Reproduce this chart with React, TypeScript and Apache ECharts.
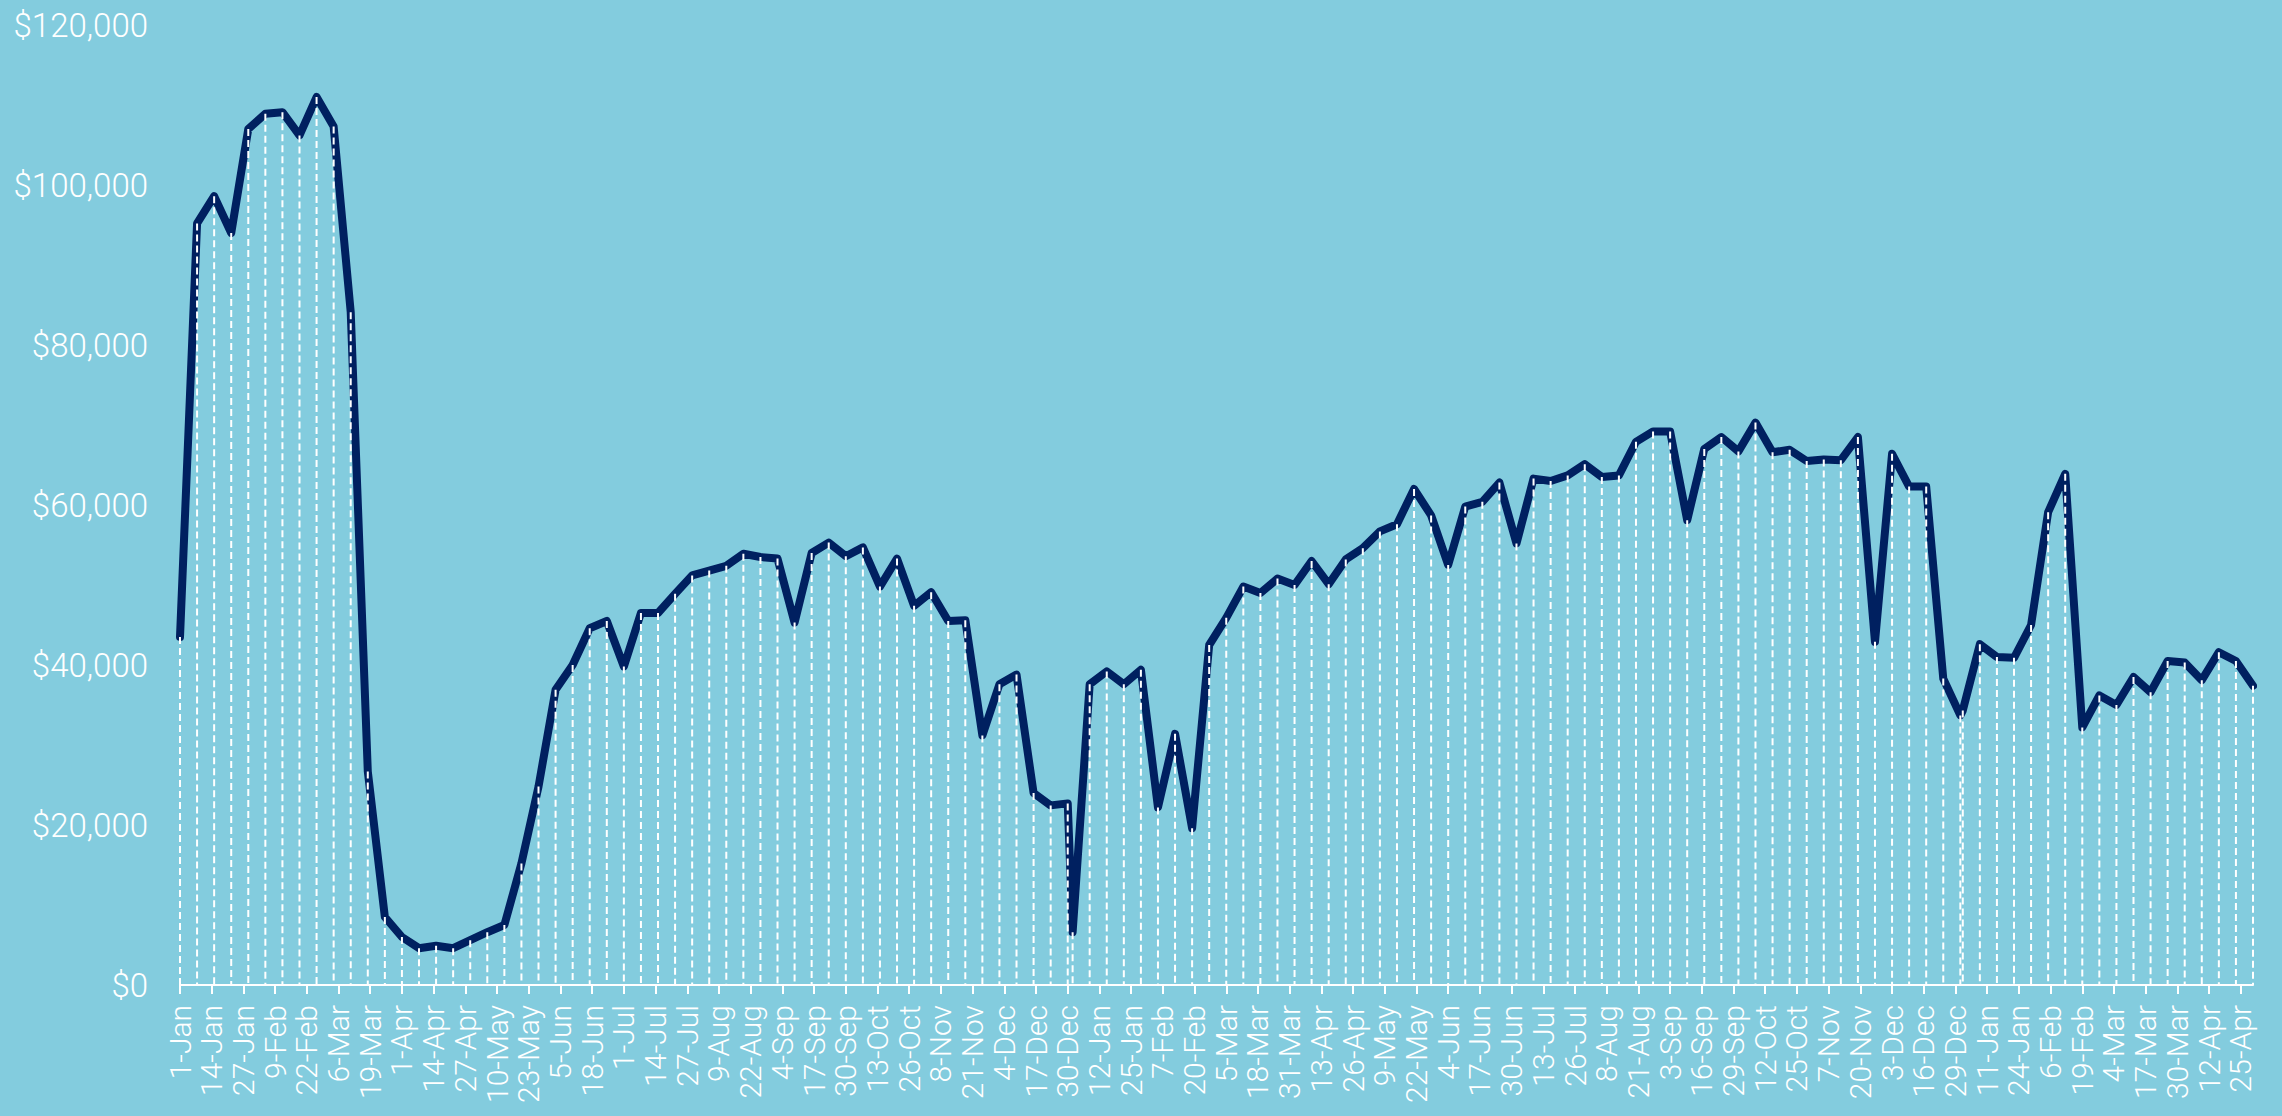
import React, { useEffect, useRef } from "react";
import * as echarts from "echarts";

// Weekly values; each year's weeks start on 1 January (week k = 1-Jan + 7k days)
const values2020 = [
  43500, 95200, 98600, 94000, 107000, 108900, 109100, 106200, 111000, 107300,
  84100, 26700, 8500, 6000, 4600, 4900, 4600, 5600, 6600, 7500,
  15200, 24800, 36900, 40000, 44600, 45500, 39800, 46500, 46500, 48900,
  51200, 51800, 52400, 53900, 53500, 53300, 45300, 54000, 55300, 53600,
  54700, 49800, 53300, 47400, 49100, 45500, 45600, 31200, 37600, 38800,
  24000, 22450, 22700,
];
const values2021 = [
  6600, 37600, 39200, 37600, 39400, 22200, 31400, 19600, 42500, 45900,
  49800, 49000, 50800, 50000, 53000, 50100, 53200, 54600, 56700, 57600,
  62000, 58700, 52500, 59800, 60400, 62800, 55200, 63300, 63000, 63700,
  65100, 63500, 63700, 67900, 69200, 69200, 58100, 67000, 68500, 66700,
  70300, 66600, 66900, 65500, 65700, 65600, 68500, 42900, 66400, 62300,
  62300, 38300, 33700,
];
const values2022 = [
  34300, 42600, 41000, 40900, 45000, 59100, 63900, 32200, 36200, 35000,
  38500, 36600, 40500, 40300, 38100, 41600, 40500, 37400,
];
// Day offset (from 1-Jan-2020) of each year's 1 January
const yearStarts = [0, 366, 731];
const axisEndDay = 850;

const xTickLabels = [
  "1-Jan", "14-Jan", "27-Jan", "9-Feb", "22-Feb", "6-Mar", "19-Mar", "1-Apr", "14-Apr", "27-Apr",
  "10-May", "23-May", "5-Jun", "18-Jun", "1-Jul", "14-Jul", "27-Jul", "9-Aug", "22-Aug", "4-Sep",
  "17-Sep", "30-Sep", "13-Oct", "26-Oct", "8-Nov", "21-Nov", "4-Dec", "17-Dec", "30-Dec", "12-Jan",
  "25-Jan", "7-Feb", "20-Feb", "5-Mar", "18-Mar", "31-Mar", "13-Apr", "26-Apr", "9-May", "22-May",
  "4-Jun", "17-Jun", "30-Jun", "13-Jul", "26-Jul", "8-Aug", "21-Aug", "3-Sep", "16-Sep", "29-Sep",
  "12-Oct", "25-Oct", "7-Nov", "20-Nov", "3-Dec", "16-Dec", "29-Dec", "11-Jan", "24-Jan", "6-Feb",
  "19-Feb", "4-Mar", "17-Mar", "30-Mar", "12-Apr", "25-Apr",
];
const xTickStep = 13;
const yTickLabels = ["$0", "$20,000", "$40,000", "$60,000", "$80,000", "$100,000", "$120,000"];
const yTickStep = 20000;

const BG = "#83CCDE";
const NAVY = "#002060";

export default function App() {
  const ref = useRef<HTMLDivElement>(null);

  useEffect(() => {
    if (!ref.current) return;
    const chart = echarts.init(ref.current, null, { renderer: "svg" });

    const points: [number, number][] = [];
    [values2020, values2021, values2022].forEach((vals, yi) => {
      vals.forEach((v, k) => points.push([yearStarts[yi] + 7 * k, v]));
    });
    const tickValues = xTickLabels.map((_, i) => i * xTickStep);

    const font = "Roboto, 'Open Sans', sans-serif";

    chart.setOption({
      animation: false,
      backgroundColor: BG,
      grid: { left: 180, right: 29, top: 25, bottom: 131 },
      xAxis: {
        type: "value",
        min: 0,
        max: axisEndDay,
        splitLine: { show: false },
        axisLine: { show: true, lineStyle: { color: "#ffffff", width: 2 } },
        axisTick: {
          show: true,
          length: 9,
          customValues: tickValues,
          lineStyle: { color: "#ffffff", width: 2 },
        },
        axisLabel: {
          customValues: tickValues,
          rotate: 90,
          margin: 20,
          color: "#ffffff",
          fontFamily: font,
          fontWeight: 300,
          fontSize: 30,
          formatter: (v: number) => xTickLabels[Math.round(v / xTickStep)] ?? "",
        },
      },
      yAxis: {
        type: "value",
        min: 0,
        max: 120000,
        interval: yTickStep,
        splitLine: { show: false },
        axisLine: { show: false },
        axisTick: { show: false },
        axisLabel: {
          margin: 32,
          color: "#ffffff",
          fontFamily: font,
          fontWeight: 300,
          fontSize: 33,
          formatter: (v: number) => yTickLabels[Math.round(v / yTickStep)] ?? "",
        },
      },
      series: [
        {
          type: "line",
          data: points,
          symbol: "none",
          z: 2,
          lineStyle: { color: NAVY, width: 8, cap: "round", join: "round" },
        },
        {
          type: "custom",
          z: 3,
          data: points,
          renderItem: (params: any, api: any) => {
            const x = api.value(0);
            const y = api.value(1);
            const p0 = api.coord([x, 0]);
            const p1 = api.coord([x, y]);
            return {
              type: "line",
              shape: { x1: p1[0], y1: p1[1], x2: p0[0], y2: p0[1] },
              style: { stroke: "#ffffff", lineWidth: 2, lineDash: [7, 4] },
            };
          },
        },
      ],
    });

    return () => chart.dispose();
  }, []);

  return (
    <div
      ref={ref}
      style={{ position: "absolute", left: 0, top: 0, width: "2282px", height: "1116px" }}
    />
  );
}
